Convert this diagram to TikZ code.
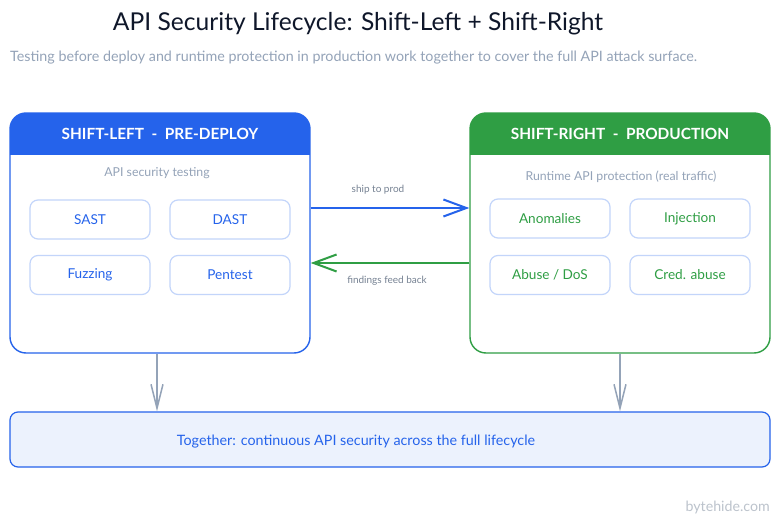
\documentclass[tikz,border=0pt]{standalone}
\usepackage{fontspec}
\setmainfont{Lato}
\usetikzlibrary{arrows.meta,positioning}

\definecolor{leftblue}{HTML}{2563EB}
\definecolor{rightgreen}{HTML}{2F9E44}
\definecolor{mutedgrey}{HTML}{94A3B8}
\definecolor{cardedge}{HTML}{C3D5FA}
\definecolor{bandfill}{HTML}{ECF2FD}
\definecolor{titleink}{HTML}{0F172A}
\definecolor{markgrey}{HTML}{BCC3CC}

\tikzset{
  panel/.style={draw, line width=1.4pt, rounded corners=16pt, minimum width=300pt, minimum height=240pt, inner sep=0pt},
  card/.style={draw=cardedge, line width=1.2pt, rounded corners=8pt, minimum width=120pt, minimum height=39pt, font=\fontsize{13.6}{16}\selectfont},
  headtext/.style={text=white, font=\fontsize{15.4}{18}\selectfont\bfseries},
  panelnote/.style={text=mutedgrey, font=\fontsize{12.3}{14}\selectfont},
  flowlabel/.style={text=mutedgrey!80!black, font=\fontsize{10}{12}\selectfont},
  sideflow/.style={line width=2pt, -{Straight Barb[length=23pt,width=17pt]}},
  downflow/.style={mutedgrey, line width=1.5pt, -{Straight Barb[length=24pt,width=12pt]}}
}

\begin{document}
\begin{tikzpicture}[x=1pt,y=-1pt]
\useasboundingbox[fill=white] (0,0) rectangle (780,524);

% title and subtitle
\node[text=titleink, font=\fontsize{24.6}{28}\selectfont] (title) at (358,24) {API Security Lifecycle: Shift-Left + Shift-Right};
\node[anchor=west, inner sep=0pt, text=mutedgrey, font=\fontsize{14.3}{17}\selectfont] (subtitle) at (10,58)
  {Testing before deploy and runtime protection in production work together to cover the full API attack surface.};

% shift-left panel
\begin{scope}
  \clip[rounded corners=16pt] (10,113) rectangle (310,353);
  \fill[leftblue] (10,113) rectangle (310,155);
\end{scope}
\node[panel, draw=leftblue] (shiftleft) at (160,233) {};
\node[headtext] (lefthead) at (160,134) {SHIFT-LEFT\ \ -\ \ PRE-DEPLOY};
\node[panelnote] (leftnote) at (157,173) {API security testing};
\node[card, text=leftblue] (sast) at (90,219.5) {SAST};
\node[card, text=leftblue] (dast) at (230,219.5) {DAST};
\node[card, text=leftblue] (fuzzing) at (90,275) {Fuzzing};
\node[card, text=leftblue] (pentest) at (230,275) {Pentest};

% shift-right panel
\begin{scope}
  \clip[rounded corners=16pt] (470,113) rectangle (770,353);
  \fill[rightgreen] (470,113) rectangle (770,155);
\end{scope}
\node[panel, draw=rightgreen] (shiftright) at (620,233) {};
\node[headtext] (righthead) at (620,134) {SHIFT-RIGHT\ \ -\ \ PRODUCTION};
\node[panelnote] (rightnote) at (621,177) {Runtime API protection (real traffic)};
\node[card, text=rightgreen] (anomalies) at (550,218.5) {Anomalies};
\node[card, text=rightgreen] (injection) at (690,218.5) {Injection};
\node[card, text=rightgreen] (abuse) at (550,275) {Abuse / DoS};
\node[card, text=rightgreen] (credabuse) at (690,275) {Cred. abuse};

% flows between the panels
\coordinate (shiplevel) at (0,208);
\coordinate (backlevel) at (0,263);
\draw[sideflow, leftblue] (shiftleft.east |- shiplevel) -- (shiftright.west |- shiplevel);
\draw[sideflow, rightgreen] (shiftright.west |- backlevel) -- (shiftleft.east |- backlevel);
\node[flowlabel] (shiplabel) at (378,190) {ship to prod};
\node[flowlabel] (backlabel) at (387,281) {findings feed back};

% together band
\node[draw=leftblue, fill=bandfill, line width=1.2pt, rounded corners=8pt, minimum width=760pt, minimum height=55pt] (together) at (390,439.5) {};
\node[text=leftblue, font=\fontsize{14.3}{17}\selectfont] (togethertext) at (356,442) {Together: continuous API security across the full lifecycle};
\draw[downflow] ([xshift=-3pt]shiftleft.south) -- ([xshift=-3pt]shiftleft.south |- together.north);
\draw[downflow] (shiftright.south) -- (shiftright.south |- together.north);

\node[anchor=east, inner sep=0pt, text=markgrey, font=\fontsize{14.2}{17}\selectfont] (brand) at (770,507) {bytehide.com};
\end{tikzpicture}
\end{document}
